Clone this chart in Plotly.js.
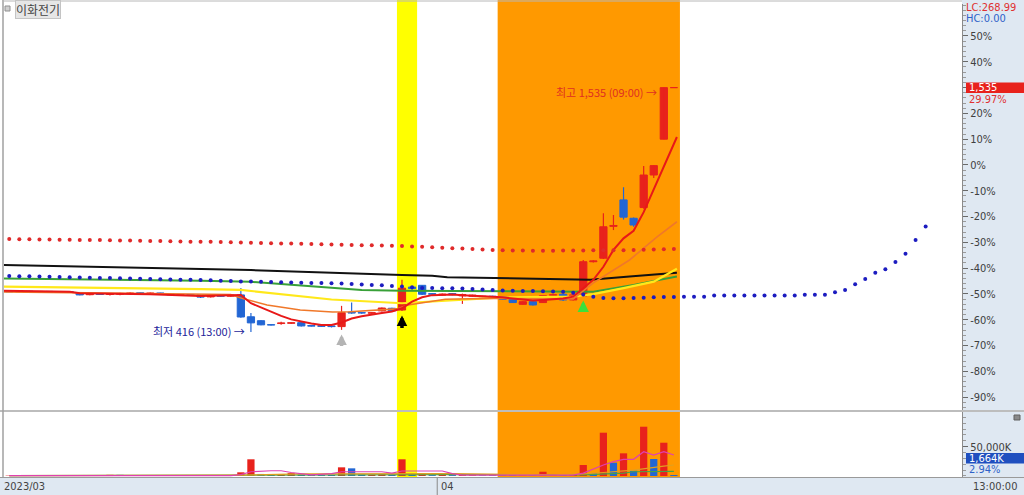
<!DOCTYPE html>
<html><head><meta charset="utf-8">
<script src="https://cdn.plot.ly/plotly-3.0.1.min.js"></script>
<style>html,body{margin:0;padding:0;background:#fff}#chart{width:1024px;height:495px}</style>
</head><body><div id="chart"></div>
<script>
// ---- reference price for the % axis (1,535 = +29.97%) ----
const BASE = 1181;

// ---- candles (price, KRW) ----
const open  = [603,600,603,601,602,599,601,597,587,590,588,589,592,596,592,595,590,586,588,586,577,582,580,
  586,486,468,450,455,456,459,446,445,444,441,507,505,502,513,525,517,622,630,592,585,592,582,580,578,580,
  578,566,543,555,551,584,589,563,581,738,754,900,1021,937,986,1135,1299,1535];
const high  = [606,604,605,604,604,603,602,598,592,591,594,596,598,597,597,596,592,590,589,588,585,584,587,
  618,503,470,452,463,460,461,448,447,446,536,551,508,507,528,527,655,626,632,594,593,594,592,587,582,582,
  580,568,557,557,585,589,592,590,746,745,960,952,1079,940,1176,1180,1535,1535];
const low   = [599,598,600,599,598,597,596,584,584,586,583,585,588,590,589,588,584,582,584,572,574,578,578,
  481,416,447,446,450,453,442,441,440,437,426,500,500,500,510,510,512,608,586,588,583,585,545,578,576,572,
  564,549,541,538,549,582,558,560,578,735,750,883,931,898,980,1121,1299,1535];
const close = [600,603,601,602,599,601,598,586,590,588,591,593,595,592,595,590,586,588,586,576,582,580,585,
  485,458,449,448,458,459,444,443,442,441,505,503,503,505,526,513,617,615,589,589,590,587,588,585,580,574,
  566,551,555,540,583,587,563,586,738,742,898,904,942,906,1135,1178,1535,1535];

// ---- volume (thousand shares) and bar colour (R = red, B = blue) ----
const volume = [600,500,700,500,600,500,700,900,600,700,2000,2000,600,500,600,500,700,500,600,800,700,500,800,
  6300,28500,3500,2500,3000,5000,2500,1500,1500,1800,14800,13100,2500,2200,3000,2000,28500,2000,4000,1500,
  3500,1500,1500,1200,1000,1200,1000,1200,1000,1200,7300,1500,1500,1800,18800,4600,73900,22700,38700,9000,
  84100,29000,56800,1664];
const volColor = ['R','B','R','B','R','B','B','R','B','R','R','B','R','B','R','B','B','R','B','R','B','R','B',
  'R','R','B','B','R','R','B','B','B','B','R','B','B','R','R','B','R','B','R','B','R','B','R','R','B','B',
  'B','B','R','B','R','R','B','R','R','B','R','B','R','B','R','B','R','B'];

// ---- moving averages (candle index, price) ----
const ma5X = [0,7,8,15,20,23,24,25,26,27,28,29,30,31,32,33,34,35,36,37,38,39,40,41,42,43,44,45,46,47,48,49,50,51,52,53,54,55,56,57,58,59,60,61,62,63,64,65,66,67.3];
const ma5Y = [606,601,594,589,581,586,586,548,528,511,490,474,463,455,448,448,460,478,488,497,503,510,525,555,575,585,588,588,584,582,580,578,575,570,565,560,563,565,570,578,618,655,715,792,845,880,965,1070,1180,1309];
const ma20X = [0,10,20,23,24,26.6,29.9,33.1,34.8,37.1,39.5,40.6,44.3,49,55,57,59,62.6,65.3,67.3];
const ma20Y = [600,596,590,588,572,540,517,508,509,517,522,540,566,570,566,568,641,746,851,921];
const ma60X = [0,10,20,24,28,33,40,45,50,57,59,62,65,67.3];
const ma60Y = [624,620,613,609,590,565,548,560,575,578,590,617,647,706];
const ma120X = [0,10,20,25,30,36,40,50,59,63,67.3];
const ma120Y = [662,657,651,646,628,609,605,602,601,632,670];
const ma240X = [0,8,25,40,43,44.5,54,58.7,62.6,67.3];
const ma240Y = [723,715,700,677,674,667,660,656,670,688];

// ---- dotted series (one dot per candle index) ----
const blueDots = [673,672,671,670,669,668,667,666,665,664,663,662,661,660,659,658,657,656,655,654,653,651,650,
  648,647,646,645,644,643,642,641,641,640,638,636,634,632,630,627,625,621,618,618,617,616,615,613,611,608,
  606,605,604,604,603,602,600,596,588,578,572,571,571,572,573,575,576,577,578,578,578,583,583,583,583,583,
  583,583,583,583,587,587,587,598,609,635,659,687,703,737,775,838,899];
const redDots = [842,841,841,840,840,839,839,838,837,837,836,835,835,834,833,833,832,831,830,830,829,828,827,
  826,825,824,823,822,821,820,819,818,817,816,815,814,813,812,811,810,808,806,804,802,800,798,796,794,792,
  790,789,789,788,788,788,789,789,789,790,790,791,791,792,793,794,795,796];

// ---- volume moving averages (index, thousand shares) ----
const vma5X = [1,23,24,25,27,28,29,30,31,33,34,38,39,40,44,45,46,57,58,60,61,62,63,64,65,66,67];
const vma5Y = [700,700,2500,7300,9000,9000,6000,3400,2000,4000,7300,7300,5000,8500,8500,4000,1500,1500,5000,18800,24400,28500,28500,41500,35800,41500,35800];
const vma20X = [1,24,30,40,45,55,58,60,63,66,67];
const vma20Y = [800,1500,3500,4000,4000,2000,3500,6000,10200,17000,18800];
const vma60X = [1,30,45,58,62,63,67];
const vma60Y = [600,2500,2500,2000,5000,7300,7800];

// ---- axis labels (30% sits under the price box, so its label is hidden) ----
const pctTicks = [50,40,30,20,10,0,-10,-20,-30,-40,-50,-60,-70,-80,-90];
const pctLabels = ['50%','40%','','20%','10%','0%','-10%','-20%','-30%','-40%','-50%','-60%','-70%','-80%','-90%'];
const volTicks = [50000];
const volLabels = ['50,000K'];

// ================= drawing =================
const pct = p => (p / BASE - 1) * 100;
const idx = open.map((_, k) => k + 1);
const RED = '#e8221c', BLUE = '#2266d4';
const NARROW = '"DejaVu Sans Condensed", "Liberation Sans Narrow", "Liberation Sans", Arial, sans-serif';
const KR = '"Noto Sans CJK KR", "Noto Sans", sans-serif';

const up = idx.map((_, k) => close[k] >= open[k]);
function wick(isUp) {
  const x = [], y = [];
  idx.forEach((i, k) => { if (up[k] === isUp) { x.push(i, i, null); y.push(pct(low[k]), pct(high[k]), null); } });
  return {type:'scatter', mode:'lines', x, y, line:{color: isUp ? RED : BLUE, width:1.2}, hoverinfo:'skip'};
}
const bodyCol = up.map(u => u ? RED : BLUE);
const bodies = {
  type:'bar', x: idx,
  base: idx.map((_, k) => pct(Math.min(open[k], close[k]))),
  y: idx.map((_, k) => pct(Math.max(open[k], close[k])) - pct(Math.min(open[k], close[k]))),
  width: 0.72, marker:{color: bodyCol, line:{color: bodyCol, width:1}}, hoverinfo:'skip'
};
const line = (X, Y, color, width) => ({type:'scatter', mode:'lines', x: X, y: Y.map(pct),
  line:{color, width}, hoverinfo:'skip'});
const dots = (Y, color) => ({type:'scatter', mode:'markers', x: Y.map((_, k) => k + 1), y: Y.map(pct),
  marker:{color, size:4}, hoverinfo:'skip'});
const vCol = volColor.map(c => c === 'R' ? RED : BLUE);
const volBars = {type:'bar', x: idx, y: volume, yaxis:'y2', width:0.72,
  marker:{color: vCol, line:{width:0}}, hoverinfo:'skip'};
const vline = (X, Y, color) => ({type:'scatter', mode:'lines', x: X, y: Y, yaxis:'y2',
  line:{color, width:1.2}, hoverinfo:'skip'});

const traces = [
  bodies, volBars,
  wick(true), wick(false),
  line(ma240X, ma240Y, '#111111', 2),
  line(ma120X, ma120Y, '#38a038', 2),
  line(ma60X, ma60Y, '#ffe81a', 2.2),
  line(ma20X, ma20Y, '#f0782a', 1.6),
  line(ma5X, ma5Y, '#e81818', 2),
  dots(redDots, '#e02a2a'),
  dots(blueDots, '#1c1cc0'),
  vline(vma60X, vma60Y, '#4aa04a'),
  vline(vma20X, vma20Y, '#e0a020'),
  vline(vma5X, vma5Y, '#e040b0')
];

const PX = x => (x - 4) / 958;     // pixel -> paper x
const PY = y => (477 - y) / 473;   // pixel -> paper y
const PANEL = '#dfe8f2';

const shapes = [
  {type:'rect', xref:'x', yref:'paper', x0:39.5, x1:41.5, y0:0, y1:PY(0), fillcolor:'#ffff00', line:{width:0}, layer:'below'},
  {type:'rect', xref:'x', yref:'paper', x0:49.5, x1:67.6, y0:0, y1:PY(0), fillcolor:'#ff9900', line:{width:0}, layer:'below'},
  {type:'rect', xref:'paper', yref:'paper', x0:1, x1:PX(1030), y0:PY(500), y1:PY(-5), fillcolor:PANEL, line:{width:0}, layer:'below'},
  {type:'rect', xref:'paper', yref:'paper', x0:PX(-5), x1:1, y0:PY(500), y1:PY(478), fillcolor:PANEL, line:{width:0}, layer:'below'},
  {type:'line', xref:'paper', yref:'paper', x0:PX(0), x1:PX(1024), y0:PY(411), y1:PY(411), line:{color:'#bdbdbd', width:2}},
  {type:'line', xref:'paper', yref:'paper', x0:PX(0), x1:PX(1024), y0:PY(477.5), y1:PY(477.5), line:{color:'#9a9a9a', width:1}},
  {type:'line', xref:'paper', yref:'paper', x0:PX(3), x1:PX(3), y0:PY(477), y1:PY(0), line:{color:'#a0a0a0', width:1.5}},
  {type:'line', xref:'paper', yref:'paper', x0:PX(3), x1:PX(962), y0:PY(1), y1:PY(1), line:{color:'#b8b8b8', width:1}},
  {type:'line', xref:'x', yref:'paper', x0:43.5, x1:43.5, y0:PY(478), y1:PY(495), line:{color:'#8a8a8a', width:1}},
  {type:'rect', xref:'paper', yref:'paper', x0:PX(966), x1:PX(1024), y0:PY(93), y1:PY(82.5), fillcolor:'#e8221c', line:{width:0}},
  {type:'rect', xref:'paper', yref:'paper', x0:PX(966), x1:PX(1024), y0:PY(463.5), y1:PY(453), fillcolor:'#1f4fbf', line:{width:0}},
  {type:'rect', xref:'paper', yref:'paper', x0:PX(5), x1:PX(10), y0:PY(11), y1:PY(6), fillcolor:'#d0d0d0', line:{color:'#909090', width:1}},
  {type:'rect', xref:'paper', yref:'paper', x0:PX(1014), x1:PX(1020), y0:PY(420), y1:PY(415), fillcolor:'#8a8a8a', line:{color:'#606060', width:1}}
];

const ann = (o) => Object.assign({showarrow:false, xanchor:'left', yanchor:'middle'}, o);
const annotations = [
  ann({xref:'paper', yref:'paper', x:PX(15), y:PY(9.5), text:'이화전기', font:{family:KR, size:12, color:'#444'},
       bgcolor:'#e6e6e6', bordercolor:'#c4c4c4', borderwidth:1, borderpad:0}),
  ann({xref:'paper', yref:'paper', x:PX(964), y:PY(7.5), text:'LC:268.99', font:{family:NARROW, size:11, color:'#e03030'}}),
  ann({xref:'paper', yref:'paper', x:PX(964), y:PY(18), text:'HC:0.00', font:{family:NARROW, size:11, color:'#2f62c8'}}),
  ann({xref:'paper', yref:'paper', x:PX(967), y:PY(87.5), text:'1,535', font:{family:NARROW, size:11, color:'#ffffff'}}),
  ann({xref:'paper', yref:'paper', x:PX(967), y:PY(99.5), text:'29.97%', font:{family:NARROW, size:11, color:'#e03030'}}),
  ann({xref:'paper', yref:'paper', x:PX(967), y:PY(458), text:'1,664K', font:{family:NARROW, size:11, color:'#ffffff'}}),
  ann({xref:'paper', yref:'paper', x:PX(967), y:PY(469.5), text:'2.94%', font:{family:NARROW, size:11, color:'#2f62c8'}}),
  ann({xref:'paper', yref:'paper', x:PX(971), y:PY(486.5), text:'13:00:00', font:{family:NARROW, size:11, color:'#444'}}),
  ann({xref:'paper', yref:'paper', x:PX(2), y:PY(486.5), text:'2023/03', font:{family:NARROW, size:11, color:'#444'}}),
  ann({xref:'x', yref:'paper', x:43.7, y:PY(486.5), text:'04', font:{family:NARROW, size:11, color:'#444'}}),
  ann({xref:'x', yref:'y', x:65.5, y:pct(1515), xanchor:'right', text:'최고 1,535 (09:00) →', font:{family:KR, size:11, color:'#e03020'}}),
  ann({xref:'x', yref:'y', x:24.6, y:pct(421), xanchor:'right', text:'최저 416 (13:00) →', font:{family:KR, size:11, color:'#24249a'}}),
  {xref:'x', yref:'y', x:40, y:pct(492), ax:0, ay:14, text:'', showarrow:true, arrowhead:2, arrowsize:0.6, arrowwidth:3.5, arrowcolor:'#000000'},
  {xref:'x', yref:'y', x:34, y:pct(405), ax:0, ay:13, text:'', showarrow:true, arrowhead:2, arrowsize:0.6, arrowwidth:3.5, arrowcolor:'#b4b4b4'},
  {xref:'x', yref:'y', x:58, y:pct(560), ax:0, ay:13, text:'', showarrow:true, arrowhead:2, arrowsize:0.65, arrowwidth:3.5, arrowcolor:'#3ce03c'}
];

const layout = {
  width:1024, height:495, margin:{l:4, r:62, t:4, b:18},
  paper_bgcolor:'#ffffff', plot_bgcolor:'#ffffff', showlegend:false,
  barmode:'overlay', hovermode:false,
  xaxis:{range:[0.48, 95.61], showticklabels:false, showgrid:false, zeroline:false, ticks:'', showline:false, fixedrange:true},
  yaxis:{domain:[0.1416, 1], range:[-95, 62.4], side:'right', tickmode:'array', tickvals:pctTicks, ticktext:pctLabels,
    ticks:'outside', ticklen:5, tickcolor:'#6a6a6a', showline:true, linecolor:'#8a8a8a', linewidth:1,
    showgrid:false, zeroline:false, tickfont:{family:NARROW, size:11, color:'#404040'},
    minor:{tickmode:'linear', tick0:0, dtick:2, ticks:'outside', ticklen:3, tickcolor:'#9a9a9a', showgrid:false}},
  yaxis2:{domain:[0, 0.1374], range:[-1700, 109200], side:'right', anchor:'x', tickmode:'array', tickvals:volTicks, ticktext:volLabels,
    ticks:'outside', ticklen:5, tickcolor:'#6a6a6a', showline:true, linecolor:'#8a8a8a', linewidth:1,
    showgrid:false, zeroline:false, tickfont:{family:NARROW, size:11, color:'#404040'},
    minor:{tickmode:'linear', tick0:0, dtick:10000, ticks:'outside', ticklen:3, tickcolor:'#9a9a9a', showgrid:false}},
  shapes, annotations
};

Plotly.newPlot('chart', traces, layout, {staticPlot:true, displayModeBar:false});
</script>
</body></html>
